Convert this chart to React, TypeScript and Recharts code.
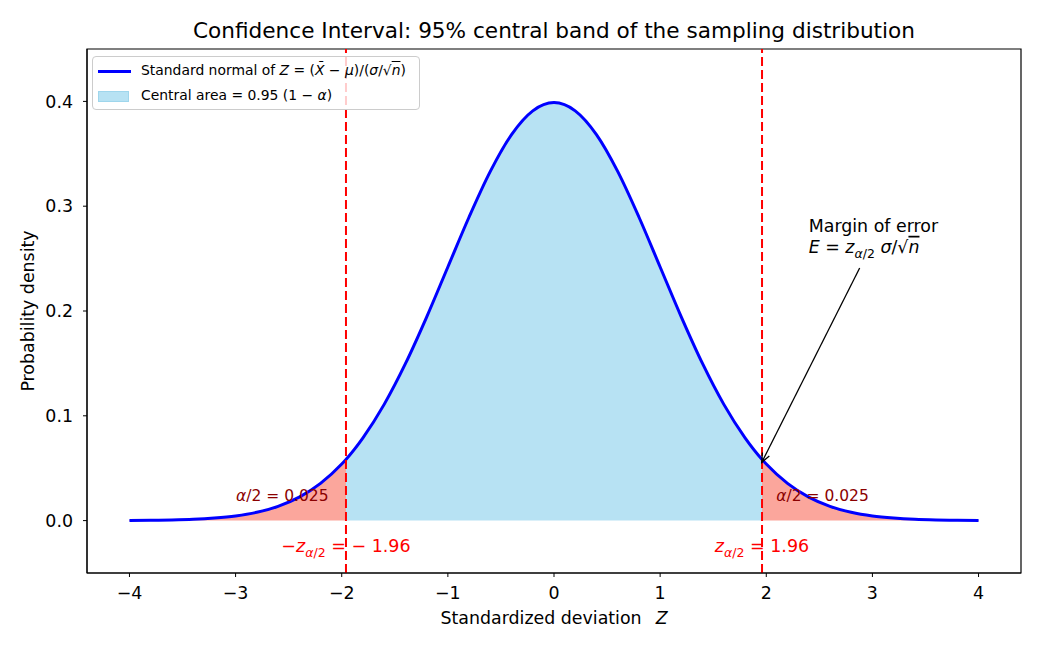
import React from 'react'
import {
    ComposedChart,
    Area,
    Line,
    XAxis,
    YAxis,
    ReferenceLine,
    ReferenceDot,
    ReferenceArea
} from 'recharts'

const FONT = '"DejaVu Sans", sans-serif'

// standardized deviation values and the density
const zValues = [
    -4, -3.8, -3.6, -3.4, -3.2, -3, -2.8, -2.6, -2.4, -2.2, -2, -1.96, -1.8, -1.6, -1.4, -1.2, -1,
    -0.8, -0.6, -0.4, -0.2, 0, 0.2, 0.4, 0.6, 0.8, 1, 1.2, 1.4, 1.6, 1.8, 1.96, 2, 2.2, 2.4, 2.6,
    2.8, 3, 3.2, 3.4, 3.6, 3.8, 4
]
const densityValues = [
    0.0001, 0.0003, 0.0006, 0.0012, 0.0024, 0.0044, 0.0079, 0.0136, 0.0224, 0.0355, 0.054, 0.0584,
    0.079, 0.1109, 0.1497, 0.1942, 0.242, 0.2897, 0.3332, 0.3683, 0.391, 0.3989, 0.391, 0.3683,
    0.3332, 0.2897, 0.242, 0.1942, 0.1497, 0.1109, 0.079, 0.0584, 0.054, 0.0355, 0.0224, 0.0136,
    0.0079, 0.0044, 0.0024, 0.0012, 0.0006, 0.0003, 0.0001
]
const criticalZ = 1.96
const xTicks = [-4, -3, -2, -1, 0, 1, 2, 3, 4]
const yTicks = [0, 0.1, 0.2, 0.3, 0.4]
const xDomain = [-4.4, 4.4]
const yDomain = [-0.05, 0.45]

const rows = zValues.map((z, i) => ({
    z,
    density: densityValues[i],
    center: Math.abs(z) <= criticalZ ? densityValues[i] : null,
    tail: Math.abs(z) >= criticalZ ? densityValues[i] : null
}))

const fmtX = (v: number) => (v < 0 ? `\u2212${-v}` : `${v}`)

function AlphaLabel(props: any) {
    return (
        <text x={props.cx} y={props.cy} textAnchor="middle" fontSize={15.5} fill="#8b0000" fontFamily={FONT}>
            <tspan fontStyle="italic">α</tspan>/2 = 0.025
        </text>
    )
}

function CritLabel(sign: string) {
    return (props: any) => (
        <text x={props.cx} y={props.cy} textAnchor="middle" fontSize={17.5} fill="#ff0000" fontFamily={FONT}>
            {sign}
            <tspan fontStyle="italic">z</tspan>
            <tspan dy={5} fontSize={12.5} fontStyle="italic">α</tspan>
            <tspan fontSize={12.5}>/2</tspan>
            <tspan dy={-5}> = {sign ? sign + ' ' : ''}1.96</tspan>
        </text>
    )
}

function MarginLabel(props: any) {
    return (
        <g fontFamily={FONT} fontSize={17.4} fill="#000">
            <text x={props.cx} y={props.cy}>Margin of error</text>
            <text x={props.cx} y={props.cy + 21}>
                <tspan fontStyle="italic">E</tspan> = <tspan fontStyle="italic">z</tspan>
                <tspan dy={5} fontSize={12.5} fontStyle="italic">α</tspan>
                <tspan fontSize={12.5}>/2</tspan>
                <tspan dy={-5} fontStyle="italic"> σ</tspan>/√
                <tspan fontStyle="italic" style={{ textDecoration: 'overline' }}>n</tspan>
            </text>
        </g>
    )
}

function Arrow(props: any) {
    const { x1, y1, x2, y2 } = props
    const ang = Math.atan2(y2 - y1, x2 - x1)
    const len = 10
    const spread = 0.4
    const ax = x2 - len * Math.cos(ang - spread)
    const ay = y2 - len * Math.sin(ang - spread)
    const bx = x2 - len * Math.cos(ang + spread)
    const by = y2 - len * Math.sin(ang + spread)
    return (
        <g stroke="#000" strokeWidth={1.3} fill="none">
            <line x1={x1} y1={y1} x2={x2} y2={y2} />
            <polyline points={`${ax},${ay} ${x2},${y2} ${bx},${by}`} />
        </g>
    )
}

function TitleLabel(p: any) {
    return (
        <text x={p.viewBox.x + p.viewBox.width / 2} y={p.viewBox.y - 11} textAnchor="middle" fontSize={21.6} fontFamily={FONT} fill="#000">
            Confidence Interval: 95% central band of the sampling distribution
        </text>
    )
}

function Legend() {
    return (
        <div
            style={{
                position: 'absolute',
                left: 92,
                top: 56,
                width: 328,
                height: 54,
                border: '1px solid #cccccc',
                borderRadius: 4,
                boxSizing: 'border-box',
                background: 'rgba(255,255,255,0.8)',
                fontFamily: FONT,
                fontSize: 13.9,
                color: '#000'
            }}
        >
            <div style={{ position: 'absolute', left: 5, top: 13, width: 33, height: 3, background: '#0000ff' }} />
            <div style={{ position: 'absolute', left: 48, top: 5, whiteSpace: 'nowrap', lineHeight: '17px' }}>
                Standard normal of <i>Z</i> = (<i>X̄</i> − <i>μ</i>)/(<i>σ</i>/√<span style={{ textDecoration: 'overline' }}><i>n</i></span>)
            </div>
            <div style={{ position: 'absolute', left: 5, top: 34, width: 31, height: 11, background: '#b7e2f3', border: '1px solid #9fd6ec', boxSizing: 'border-box' }} />
            <div style={{ position: 'absolute', left: 48, top: 30, whiteSpace: 'nowrap', lineHeight: '17px' }}>
                Central area = 0.95 (1 − <i>α</i>)
            </div>
        </div>
    )
}

export default function App() {
    return (
        <div style={{ position: 'absolute', left: 0, top: 0, width: 1040, height: 650, background: '#fff' }}>
            <ComposedChart width={1040} height={650} data={rows} margin={{ top: 49, right: 19, bottom: 27, left: 27 }}>
                <XAxis
                    dataKey="z"
                    type="number"
                    domain={xDomain}
                    ticks={xTicks}
                    tickFormatter={fmtX}
                    height={50}
                    tickSize={4}
                    tickMargin={10}
                    stroke="#000"
                    tick={{ fill: '#000', fontSize: 17.4, fontFamily: FONT }}
                    allowDataOverflow
                    label={{
                        content: (p: any) => (
                            <text x={p.viewBox.x + p.viewBox.width / 2} y={p.viewBox.y + 51} textAnchor="middle" fontSize={17.4} fontFamily={FONT} fill="#000">
                                Standardized deviation<tspan dx={14} fontStyle="italic">Z</tspan>
                            </text>
                        )
                    }}
                />
                <YAxis
                    type="number"
                    domain={yDomain}
                    ticks={yTicks}
                    tickFormatter={(v: number) => v.toFixed(1)}
                    width={60}
                    tickSize={4}
                    tickMargin={10}
                    stroke="#000"
                    tick={{ fill: '#000', fontSize: 17.4, fontFamily: FONT }}
                    allowDataOverflow
                    label={{
                        content: (p: any) => {
                            const cy = p.viewBox.y + p.viewBox.height / 2
                            return (
                                <text x={28} y={cy} transform={`rotate(-90 28 ${cy})`} textAnchor="middle" dominantBaseline="central" fontSize={17.4} fontFamily={FONT} fill="#000">
                                    Probability density
                                </text>
                            )
                        }
                    }}
                />

                <Area dataKey="center" type="monotone" baseValue={0} fill="#b7e2f3" fillOpacity={1} stroke="#a6d9ee" strokeWidth={1} isAnimationActive={false} dot={false} activeDot={false} />
                <Area dataKey="tail" type="monotone" baseValue={0} fill="#fba69c" fillOpacity={1} stroke="#f59a90" strokeWidth={1} isAnimationActive={false} dot={false} activeDot={false} />
                <Line dataKey="density" type="monotone" stroke="#0000ff" strokeWidth={3} dot={false} activeDot={false} isAnimationActive={false} />

                <ReferenceLine x={-criticalZ} stroke="#ff0000" strokeWidth={2} strokeDasharray="9 4" />
                <ReferenceLine x={criticalZ} stroke="#ff0000" strokeWidth={2} strokeDasharray="9 4" />

                <ReferenceDot x={-2.56} y={0.019} r={0} shape={AlphaLabel} />
                <ReferenceDot x={2.53} y={0.019} r={0} shape={AlphaLabel} />
                <ReferenceDot x={-criticalZ} y={-0.0297} r={0} shape={CritLabel('\u2212')} />
                <ReferenceDot x={criticalZ} y={-0.0297} r={0} shape={CritLabel('')} />
                <ReferenceDot x={2.4} y={0.2756} r={0} shape={MarginLabel} />
                <ReferenceLine segment={[{ x: 2.88, y: 0.241 }, { x: 1.957, y: 0.0555 }]} shape={Arrow} />

                <ReferenceArea x1={xDomain[0]} x2={xDomain[1]} y1={yDomain[0]} y2={yDomain[1]} fill="none" fillOpacity={0} stroke="#000" strokeWidth={1.2} label={{ content: TitleLabel }} />
            </ComposedChart>
            <Legend />
        </div>
    )
}
